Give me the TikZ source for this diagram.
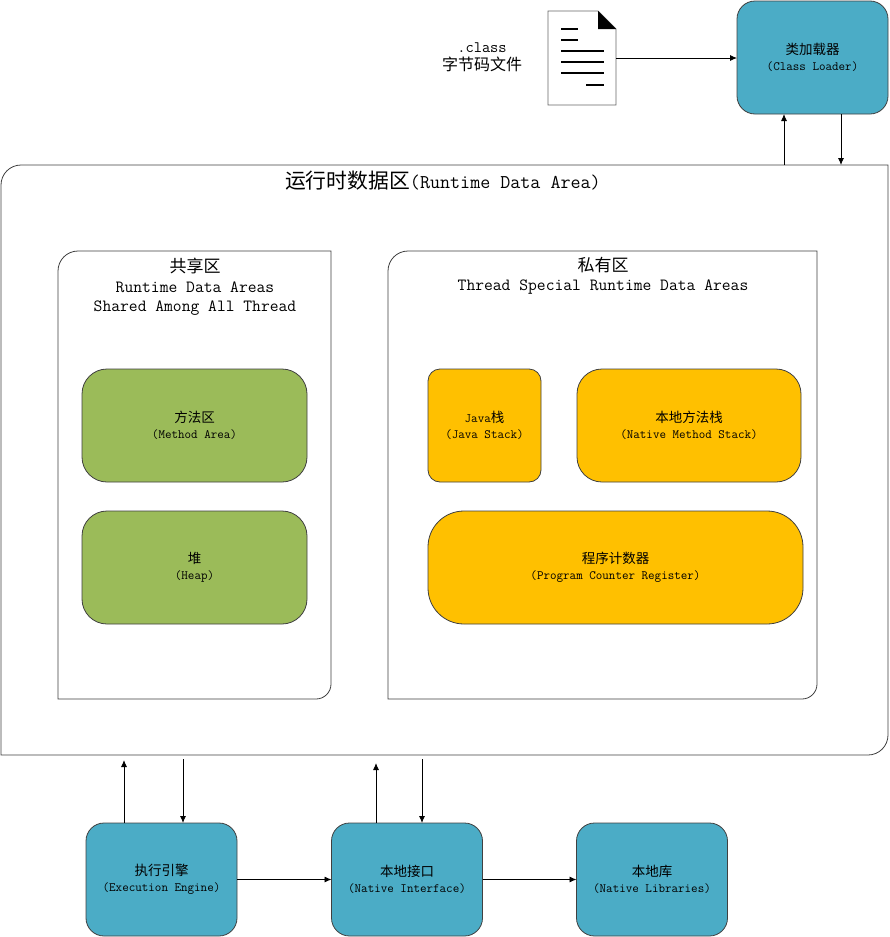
\documentclass[tikz,border=0pt]{standalone}
\usepackage{fontspec}
\usetikzlibrary{arrows.meta}
\newfontfamily\cjk{Noto Sans CJK SC}
\definecolor{tealfill}{HTML}{4BACC6}
\definecolor{greenfill}{HTML}{9BBB59}
\definecolor{orangefill}{HTML}{FFC000}
\tikzset{
  box/.style={draw=black!75,line width=0.8pt,inner sep=0pt,outer sep=0pt,align=center,minimum height=113pt,
    font=\ttfamily\fontsize{12.7}{16}\selectfont},
  tealbox/.style={box,fill=tealfill,minimum width=151pt,rounded corners=18pt},
  greenbox/.style={box,fill=greenfill,minimum width=225pt,rounded corners=25pt},
  orangebox/.style={box,fill=orangefill},
  region/.style={draw=black!75,line width=0.8pt,fill=white},
  caption/.style={inner sep=0pt,align=center,font=\ttfamily\fontsize{17.1}{19.5}\selectfont},
  arr/.style={-{Latex[length=7pt,width=6pt]},line width=0.9pt},
  docline/.style={line width=1.1pt}
}
\newcommand{\zh}[1]{{\cjk\fontsize{13.5}{16}\selectfont #1}}
\newcommand{\zhbig}[1]{{\cjk\fontsize{17}{19.5}\selectfont #1}}
\begin{document}
\begin{tikzpicture}[x=1pt,y=-1pt]
\useasboundingbox (0,0) rectangle (889,937);
% regions
\draw[region] (1,185) arc[start angle=180,end angle=270,radius=20] -- (888,165) -- (888,735) arc[start angle=0,end angle=90,radius=20] -- (1,755) -- cycle;
\draw[region] (58,271) arc[start angle=180,end angle=270,radius=20] -- (331,251) -- (331,684) arc[start angle=0,end angle=90,radius=15] -- (58,699) -- cycle;
\draw[region] (388,271) arc[start angle=180,end angle=270,radius=20] -- (817,251) -- (817,684) arc[start angle=0,end angle=90,radius=15] -- (388,699) -- cycle;
\node[caption,font=\ttfamily\fontsize{19.5}{22}\selectfont] (areatitle) at (443,181) {{\cjk\fontsize{20.8}{22}\selectfont 运行时数据区}(Runtime Data Area)};
\node[caption] (sharedtitle) at (195,287) {\zhbig{共享区}\\Runtime Data Areas\\Shared Among All Thread};
\node[caption] (privatetitle) at (603,276) {\zhbig{私有区}\\Thread Special Runtime Data Areas};
% class file
\draw[line width=0.8pt,draw=black!60,fill=white] (548,11) -- (598,11) -- (616,29) -- (616,105) -- (548,105) -- cycle;
\fill (598,11) -- (616,29) -- (598,29) -- cycle;
\draw[docline] (561,29) -- (578,29);
\draw[docline] (561,40) -- (578,40);
\draw[docline] (561,51) -- (604,51);
\draw[docline] (561,62) -- (604,62);
\draw[docline] (561,73) -- (604,73);
\draw[docline] (586,85) -- (604,85);
\coordinate (classfile) at (616,58);
\node[caption,font=\ttfamily\fontsize{16}{18}\selectfont] (classtext) at (482,57) {.class\\{\cjk\fontsize{16}{18}\selectfont 字节码文件}};
% boxes
\node[tealbox] (loader) at (812.5,57.5) {\zh{类加载器}\\(Class Loader)};
\node[greenbox] (method) at (194.5,425.5) {\zh{方法区}\\(Method Area)};
\node[greenbox] (heap) at (194.5,567.5) {\zh{堆}\\(Heap)};
\node[orangebox,minimum width=113pt,rounded corners=12pt] (javastack) at (484.5,425.5) {Java\zh{栈}\\(Java Stack)};
\node[orangebox,minimum width=224pt,rounded corners=25pt] (nativestack) at (689,425.5) {\zh{本地方法栈}\\(Native Method Stack)};
\node[orangebox,minimum width=375pt,rounded corners=36pt] (counter) at (615.5,567.5) {\zh{程序计数器}\\(Program Counter Register)};
\node[tealbox] (engine) at (161.5,879.5) {\zh{执行引擎}\\(Execution Engine)};
\node[tealbox] (interface) at (407,879.5) {\zh{本地接口}\\(Native Interface)};
\node[tealbox] (libraries) at (652,879.5) {\zh{本地库}\\(Native Libraries)};
% connectors
\coordinate (areaup) at (784,165);
\coordinate (areadown) at (841,165);
\coordinate (engineup) at (124,760);
\coordinate (enginedown) at (183,759);
\coordinate (nativeup) at (376,763);
\coordinate (nativedown) at (422,759);
\draw[arr] (classfile) -- (classfile -| loader.west);
\draw[arr] (areaup) -- (areaup |- loader.south);
\draw[arr] (areadown |- loader.south) -- (areadown);
\draw[arr] (engineup |- engine.north) -- (engineup);
\draw[arr] (enginedown) -- (enginedown |- engine.north);
\draw[arr] (nativeup |- interface.north) -- (nativeup);
\draw[arr] (nativedown) -- (nativedown |- interface.north);
\draw[arr] (engine) -- (interface);
\draw[arr] (interface) -- (libraries);
\end{tikzpicture}
\end{document}
